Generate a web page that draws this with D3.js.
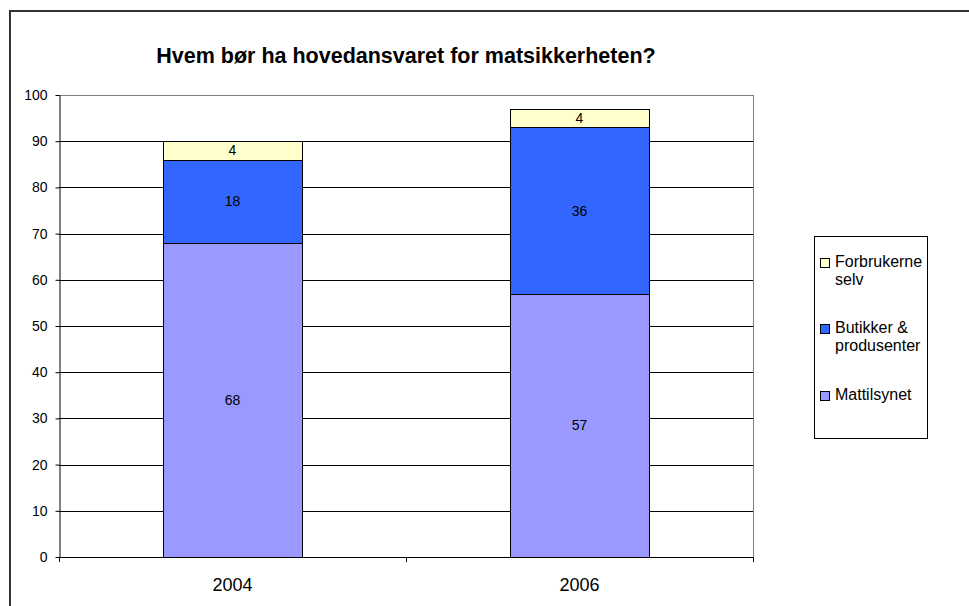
<!DOCTYPE html>
<html><head><meta charset="utf-8">
<script src="https://cdn.jsdelivr.net/npm/d3@7"></script>
<style>body{margin:0;background:#fff}svg{display:block}text{font-family:Arial,"Liberation Sans",sans-serif}</style>
</head><body>
<script>
const years = ["2004", "2006"];
const seriesNames = ["Mattilsynet", "Butikker & produsenter", "Forbrukerne selv"];
const mattilsynet = [68, 57];
const butikker = [18, 36];
const forbrukerne = [4, 4];
const yTicks = [0,10,20,30,40,50,60,70,80,90,100];
const colors = ["#9999FF", "#3366FF", "#FFFFCC"];
const legendLabels = [["Forbrukerne","selv"],["Butikker &","produsenter"],["Mattilsynet"]];
const legendColors = ["#FFFFCC", "#3366FF", "#9999FF"];
const title = "Hvem bør ha hovedansvaret for matsikkerheten?";

const W = 969, H = 606;
const svg = d3.select("body").append("svg").attr("width", W).attr("height", H);
svg.append("rect").attr("x",10).attr("y",11).attr("width",980).attr("height",620)
  .attr("fill","#fff").attr("stroke","#333").attr("stroke-width",2);

const L = 59, R = 753, T = 95, B = 557;
const x = d3.scaleBand().domain(years).range([L, R]).paddingInner(0).paddingOuter(0);
const y = d3.scaleLinear().domain([0, 100]).range([B, T]);

// gridlines
svg.append("g").selectAll("line").data(yTicks.filter(d => d > 0 && d < 100)).join("line")
  .attr("x1", L).attr("x2", R).attr("y1", d => Math.round(y(d)) + 0.5).attr("y2", d => Math.round(y(d)) + 0.5)
  .attr("stroke", "#000").attr("stroke-width", 1);
// plot border top/right gray
svg.append("line").attr("x1", L).attr("x2", R+0.5).attr("y1", T+0.5).attr("y2", T+0.5).attr("stroke", "#808080");
svg.append("line").attr("x1", R+0.5).attr("x2", R+0.5).attr("y1", T).attr("y2", B).attr("stroke", "#808080");

// stacked bars
const data = years.map((yr, i) => ({year: yr, v: [mattilsynet[i], butikker[i], forbrukerne[i]]}));
const bw = x.bandwidth() * 0.4;
data.forEach(d => {
  let base = 0;
  d.v.forEach((val, k) => {
    const y0 = y(base), y1 = y(base + val);
    const bx = x(d.year) + (x.bandwidth() - bw) / 2;
    svg.append("rect").attr("x", Math.round(bx) + 0.5).attr("y", Math.round(y1) + 0.5)
      .attr("width", Math.round(bw)).attr("height", Math.round(y0) - Math.round(y1))
      .attr("fill", colors[k]).attr("stroke", "#000").attr("stroke-width", 1);
    svg.append("text").attr("x", x(d.year) + x.bandwidth() / 2).attr("y", (y0 + y1) / 2 + 5)
      .attr("text-anchor", "middle").attr("font-size", 14).attr("fill", "#000").text(val);
    base += val;
  });
});

// axes
const yAxis = d3.axisLeft(y).tickValues(yTicks).tickSize(4).tickPadding(8).tickSizeOuter(0);
const gy = svg.append("g").attr("transform", `translate(${L+0.5},0)`).call(yAxis);
gy.selectAll("text").attr("font-size", 14).attr("font-family", "Arial, 'Liberation Sans', sans-serif").attr("fill","#000");
gy.select(".domain").attr("stroke", "#000");
gy.selectAll(".tick line").attr("stroke", "#000");

svg.append("line").attr("x1", L).attr("x2", R+1).attr("y1", B+0.5).attr("y2", B+0.5).attr("stroke", "#000");
const xb = [L, ...years.map(yr => x(yr) + x.bandwidth())];
svg.append("g").selectAll("line").data(xb).join("line")
  .attr("x1", d => Math.round(d) + 0.5).attr("x2", d => Math.round(d) + 0.5)
  .attr("y1", B).attr("y2", B + 5).attr("stroke", "#000");
svg.append("g").selectAll("text").data(years).join("text")
  .attr("x", d => x(d) + x.bandwidth() / 2).attr("y", 591)
  .attr("text-anchor", "middle").attr("font-size", 18).attr("fill", "#000").text(d => d);

// title
svg.append("text").attr("x", (L + R) / 2).attr("y", 63).attr("text-anchor", "middle")
  .attr("font-size", 21.5).attr("font-weight", "bold").attr("fill", "#000").text(title);

// legend
const lg = svg.append("g");
lg.append("rect").attr("x", 814.5).attr("y", 236.5).attr("width", 113).attr("height", 202)
  .attr("fill", "#fff").attr("stroke", "#000");
const lgY = [258, 324, 391];
legendLabels.forEach((lines, i) => {
  lg.append("rect").attr("x", 820.5).attr("y", lgY[i] + 0.5).attr("width", 9).attr("height", 9)
    .attr("fill", legendColors[i]).attr("stroke", "#000");
  lines.forEach((ln, j) => {
    lg.append("text").attr("x", 835).attr("y", lgY[i] + 9 + j * 17.5).attr("font-size", 16)
      .attr("fill", "#000").text(ln);
  });
});
</script>
</body></html>
